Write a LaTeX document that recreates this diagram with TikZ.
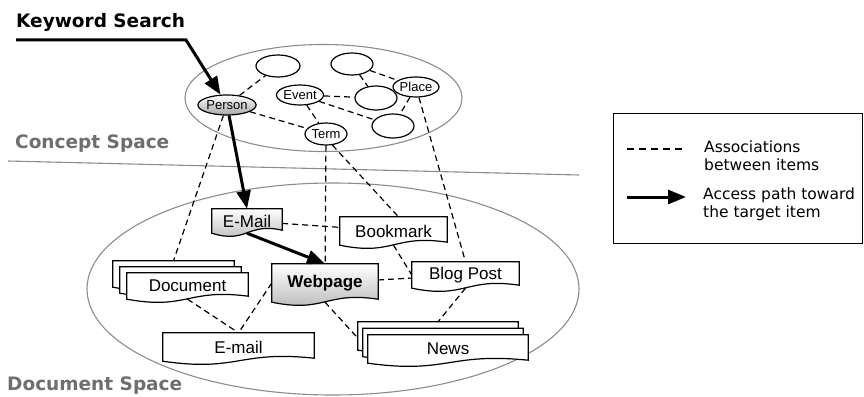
\documentclass[tikz,border=0pt]{standalone}
\usepackage{fontspec}
\usetikzlibrary{arrows.meta,shapes.geometric,calc}
\newfontfamily\arialf{Liberation Sans}
\newfontfamily\verdf{DejaVu Sans}
\pgfdeclarelayer{bg}
\pgfdeclarelayer{conn}
\pgfdeclarelayer{shapes}
\pgfsetlayers{bg,conn,shapes,main}
\definecolor{spacegray}{HTML}{8C8C8C}
\definecolor{headgray}{HTML}{6E6E6E}
\newcommand\wavebox[4]{%
  \path[#2] ([shift={(#3,#4)}]#1.north west) -- ([shift={(#3,#4)}]#1.north east)
    -- ([shift={(#3,#4+3)}]#1.south east)
    .. controls ($(#1.south)+(#3,#4+11)$) and ($(#1.south)+(#3,#4-11)$) ..
    ([shift={(#3,#4)}]#1.south west) -- cycle;
}
\tikzset{
  spaceline/.style={draw=spacegray, line width=1.1pt},
  conn/.style={draw=black, line width=1.2pt, dash pattern=on 6pt off 4pt},
  access/.style={draw=black, line width=3pt, -{Triangle[length=18pt,width=14pt]}},
  cnode/.style={ellipse, draw=black, fill=white, line width=1.2pt, inner sep=0pt,
    font=\arialf\fontsize{13}{15}\selectfont},
  dnode/.style={rectangle, draw=none, inner sep=0pt,
    font=\arialf\fontsize{17}{20}\selectfont},
  plainbox/.style={draw=black, fill=white, line width=1.2pt},
  gradbox/.style={draw=black, top color=white, bottom color=black!30, line width=1.2pt},
  head/.style={font=\verdf\bfseries\fontsize{18.5}{22}\selectfont, inner sep=0pt, anchor=base west},
  legtxt/.style={font=\verdf\fontsize{15.5}{18}\selectfont, inner sep=0pt, anchor=west, align=left},
}
\begin{document}
\begin{tikzpicture}[x=1pt,y=1pt]
\useasboundingbox (0,0) rectangle (864,-396);

% headings
\node[head] (kwtxt) at (16,-28) {Keyword Search};
\node[head, text=headgray] (cstxt) at (15,-148) {Concept Space};
\node[head, text=headgray] (dstxt) at (7,-390) {Document Space};

% spaces
\begin{pgfonlayer}{bg}
  \draw[spaceline] (323.5,-98) ellipse [x radius=138.5pt, y radius=53.5pt];
  \draw[spaceline] (333,-289) ellipse [x radius=246pt, y radius=106pt];
  \coordinate (sep0) at (8,-161);
  \coordinate (sep1) at (579,-175);
  \draw[spaceline] (sep0) -- (sep1);
\end{pgfonlayer}

% concept nodes
\node[cnode, minimum width=44pt, minimum height=22pt] (e1) at (278,-66) {};
\node[cnode, minimum width=42pt, minimum height=22pt] (e2) at (352,-64) {};
\node[cnode, minimum width=38pt, minimum height=20pt] (place) at (416,-87) {Place};
\node[cnode, minimum width=44pt, minimum height=20pt] (event) at (300,-95) {Event};
\node[cnode, minimum width=42pt, minimum height=24pt] (e3) at (376,-98) {};
\node[cnode, minimum width=42pt, minimum height=24pt] (e4) at (393,-126) {};
\node[cnode, minimum width=42pt, minimum height=22pt] (term) at (326,-134) {Term};
\node[cnode, minimum width=57pt, minimum height=20pt, top color=white, bottom color=black!35] (person) at (227,-105) {Person};

% document nodes
\node[dnode, minimum width=70pt, minimum height=24pt] (email) at (247,-221) {E-Mail};
\node[dnode, minimum width=106pt, minimum height=38pt, font=\arialf\bfseries\fontsize{17}{20}\selectfont] (webpage) at (325,-283) {Webpage};
\node[dnode, minimum width=107pt, minimum height=28pt] (bookmark) at (393.5,-231) {Bookmark};
\node[dnode, minimum width=107pt, minimum height=26pt] (blog) at (465.5,-275) {Blog Post};
\node[dnode, minimum width=151pt, minimum height=28pt] (email2) at (238.5,-347) {E-mail};
\node[dnode, minimum width=121pt, minimum height=26pt] (doc) at (187.5,-286) {Document};
\node[dnode, minimum width=160pt, minimum height=28pt] (news) at (448,-349) {News};

\begin{pgfonlayer}{shapes}
  \wavebox{email}{gradbox}{0}{0}
  \wavebox{webpage}{gradbox}{0}{0}
  \wavebox{bookmark}{plainbox}{0}{0}
  \wavebox{blog}{plainbox}{0}{0}
  \wavebox{email2}{plainbox}{0}{0}
  \wavebox{doc}{plainbox}{-14}{12}
  \wavebox{doc}{plainbox}{-7}{6}
  \wavebox{doc}{plainbox}{0}{0}
  \wavebox{news}{plainbox}{-10}{13}
  \wavebox{news}{plainbox}{-5}{6.5}
  \wavebox{news}{plainbox}{0}{0}
\end{pgfonlayer}

% associations
\begin{pgfonlayer}{conn}
  \draw[conn] (person) -- (e1);
  \draw[conn] (person) -- (term);
  \draw[conn] (event) -- (e3);
  \draw[conn] (event) -- (e4);
  \draw[conn] (event) -- (term);
  \draw[conn] (e2) -- (place);
  \draw[conn] (e2) -- (e3);
  \draw[conn] (place) -- (e4);
  \draw[conn] (person) -- ([xshift=-14pt,yshift=12pt]doc.north);
  \draw[conn] (term) -- (webpage);
  \draw[conn] (term.-60) -- ([xshift=5pt]bookmark.north);
  \draw[conn] (bookmark.south) -- (blog.west);
  \draw[conn] (place) -- (blog.north);
  \draw[conn] (email) -- (bookmark);
  \draw[conn] (webpage) -- (blog);
  \draw[conn] (webpage.west) -- (email2.north);
  \draw[conn] (doc.south) -- (email2.north);
  \draw[conn] (webpage.south) -- (news.west);
  \draw[conn] (blog.south) -- ([xshift=-10pt,yshift=13pt]news.north);
\end{pgfonlayer}

% access path
\coordinate (kw0) at (16,-40);
\coordinate (kw1) at (186,-40);
\draw[access] (kw0) -- (kw1) -- (person);
\draw[access] (person) -- (email.north);
\draw[access] (email.south) -- (webpage.north);

% legend
\node[draw=black, line width=1.2pt, minimum width=249pt, minimum height=130pt, inner sep=0pt, anchor=north west] (legend) at (613,-113) {};
\coordinate (ld0) at (627,-149);
\coordinate (ld1) at (684,-149);
\draw[conn, dash pattern=on 7pt off 5pt] (ld0) -- (ld1);
\coordinate (la0) at (627,-197);
\coordinate (la1) at (686,-197);
\draw[access] (la0) -- (la1);
\node[legtxt] (lt1) at (704,-155.5) {Associations\\between items};
\node[legtxt] (lt2) at (703,-204) {Access path toward\\the target item};
\end{tikzpicture}
\end{document}
